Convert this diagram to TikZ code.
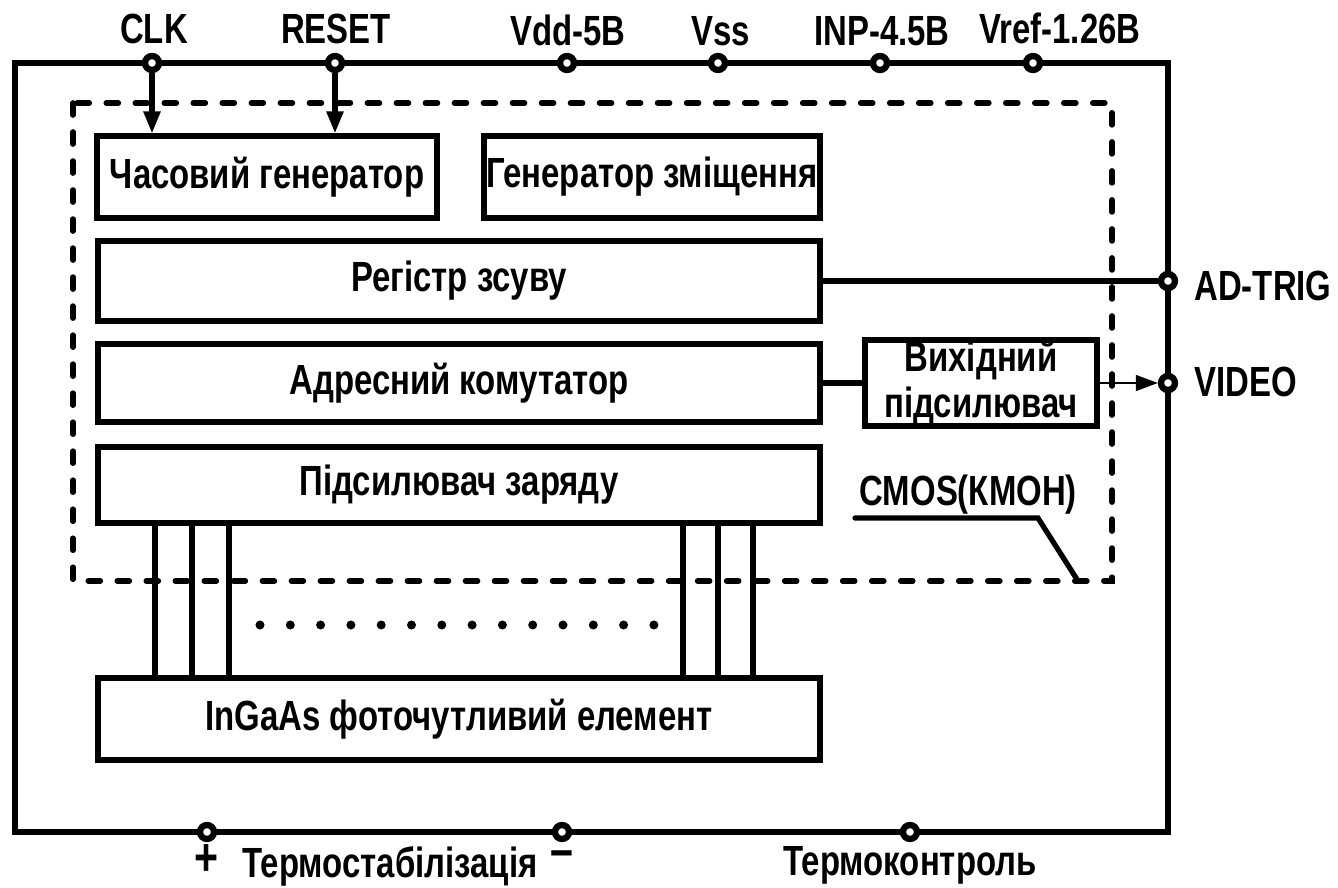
\documentclass[tikz,border=0pt]{standalone}
\usepackage{fontspec}
\newfontfamily\gostfont{Liberation Sans}[FakeStretch=0.78]
\usetikzlibrary{arrows.meta}
\tikzset{ > = {Triangle[length=2.2mm,width=1.6mm]} }

\begin{document}
\begin{tikzpicture}
  [
    x = 0.01cm, y = -0.01cm,
    every node/.style = { font = \gostfont\bfseries\fontsize{12}{13}\selectfont },
    block/.style = { draw, rectangle, line width = 1.7pt, inner sep = 0pt, align = center },
    port/.style = { draw, circle, fill = white, line width = 1.8pt, minimum size = 0.14cm, inner sep = 0pt },
    wire/.style = { line width = 1.5pt },
    chip/.style = { line width = 1.6pt, line cap = round, dash pattern = on 1.2mm off 1.7mm }
  ]
    \useasboundingbox (0,0) rectangle (1338,888);

    % outer frame and dashed CMOS area
    \draw [line width = 1.7pt] (15,63) rectangle (1168,832);
    \draw [chip] (73,103) rectangle (1112,581);

    % blocks
    \node (clkgen) [block, minimum width = 3.39cm, minimum height = 0.81cm] at (267,177) {Часовий генератор};
    \node (biasgen) [block, minimum width = 3.35cm, minimum height = 0.81cm] at (652,177) {Генератор зміщення};
    \node (shift) [block, minimum width = 7.22cm, minimum height = 0.80cm] at (459,281) {Регістр зсуву};
    \node (mux) [block, minimum width = 7.22cm, minimum height = 0.77cm] at (459,383) {Адресний комутатор};
    \node (outamp) [block, minimum width = 2.31cm, minimum height = 0.82cm] at (981,383) {Вихідний\\підсилювач};
    \node (champ) [block, minimum width = 7.22cm, minimum height = 0.75cm] at (459,485) {Підсилювач заряду};
    \node (sensor) [block, minimum width = 7.22cm, minimum height = 0.82cm] at (459,719) {InGaAs фоточутливий елемент};

    % ports
    \node (clk) [port] at (152,63) {};
    \node (reset) [port] at (335,63) {};
    \node (vdd) [port] at (567,63) {};
    \node (vss) [port] at (718,63) {};
    \node (inp) [port] at (880,63) {};
    \node (vref) [port] at (1033,63) {};
    \node (adtrig) [port] at (1168,281) {};
    \node (video) [port] at (1168,383) {};
    \node (tsplus) [port] at (207,832) {};
    \node (tsminus) [port] at (562,832) {};
    \node (tctrl) [port] at (910,832) {};

    % port labels
    \node (clkl) [anchor = base] at (154,44) {CLK};
    \node (resetl) [anchor = base] at (336,44) {RESET};
    \node (vddl) [anchor = base] at (568,46) {Vdd-5B};
    \node (vssl) [anchor = base] at (721,46) {Vss};
    \node (inpl) [anchor = base] at (882,46) {INP-4.5B};
    \node (vrefl) [anchor = base] at (1060,44) {Vref-1.26B};
    \node (adtrigl) [anchor = base west] at (1182,301) {AD-TRIG};
    \node (videol) [anchor = base west] at (1182,397) {VIDEO};
    \node (plusl) [anchor = base, font = \gostfont\bfseries\fontsize{15}{15}\selectfont] at (207,876) {+};
    \node (tstabl) [anchor = base west] at (230,878) {Термостабілізація};
    \node (minusl) [anchor = base, font = \gostfont\bfseries\fontsize{15}{15}\selectfont] at (562,868) {–};
    \node (tctrll) [anchor = base] at (910,876) {Термоконтроль};

    % connections
    \draw [->, wire] (clk) -- (clk |- clkgen.north);
    \draw [->, wire] (reset) -- (reset |- clkgen.north);
    \draw [wire] (shift.east) -- (adtrig);
    \draw [wire] (mux.east) -- (outamp.west);
    \draw [->, thin] (outamp.east) -- (video);
    \foreach \x in {155,192,229,683,718,753}
      \draw [wire] (champ.south -| \x,0) -- (sensor.north -| \x,0);
    \foreach \i in {0,...,13}
      \fill (260+30.3*\i,625) circle [radius = 0.45mm];

    % CMOS label with leader
    \node (cmos) [anchor = south west, inner sep = 1pt] at (855,518) {CMOS(КМОН)};
    \coordinate (cmostip) at (1078,581);
    \draw [wire, line cap = round] (cmos.south west) -- ++(183,0) -- (cmostip);
\end{tikzpicture}
\end{document}
